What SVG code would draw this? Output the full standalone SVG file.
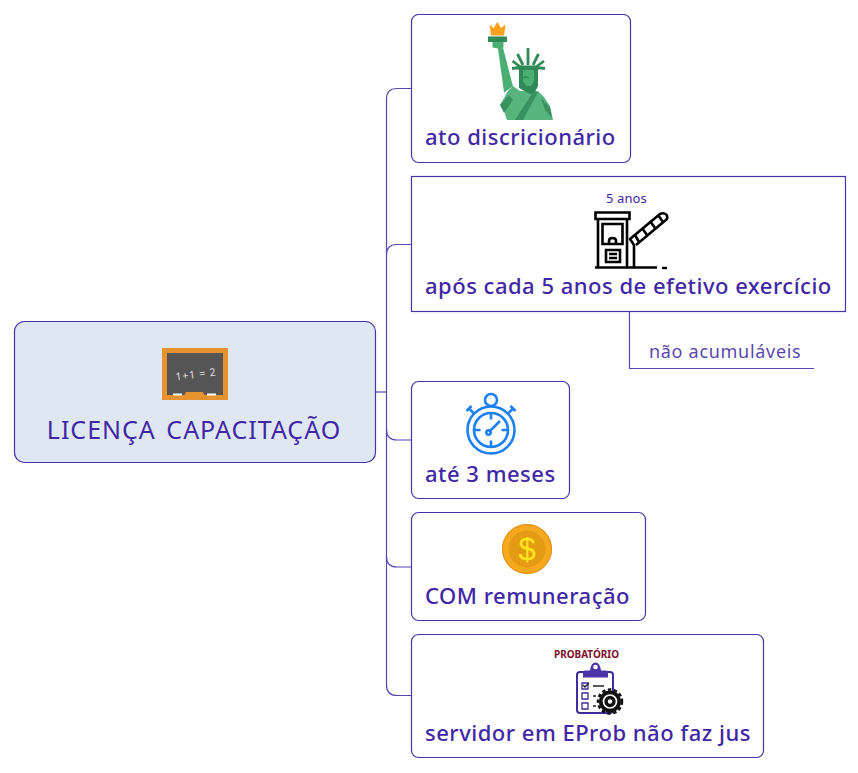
<svg xmlns="http://www.w3.org/2000/svg" width="858" height="773" viewBox="0 0 858 773">
<style>
text{font-family:"Noto Sans","Open Sans","DejaVu Sans",sans-serif;fill:#3f27a5}
.box{fill:#fff;stroke:#4a32a8;stroke-width:1.2}
.lab{font-size:22px;font-weight:500;letter-spacing:.5px}
.conn{fill:none;stroke:#5a45b5;stroke-width:1.2}
.gl{fill:none;stroke:#000;stroke-width:2.6}
.bl{fill:none;stroke:#1e80f5;stroke-width:2.6}
.nv{fill:none;stroke:#3f2d9c;stroke-width:2}
</style>
<rect width="858" height="773" fill="#fff"/>
<g id="connectors">
<path class="conn" d="M376 392H386.500"/>
<path class="conn" d="M411.500 88.500H397Q386.500 88.500 386.500 99V685Q386.500 695.500 397 695.500H411.500"/>
<path class="conn" d="M411.500 244.500H397Q386.500 244.500 386.500 255"/>
<path class="conn" d="M386.500 429.500Q386.500 440 397 440H411.500"/>
<path class="conn" d="M386.500 556.500Q386.500 567 397 567H411.500"/>
<path class="conn" d="M629.500 311.500V368.500H814"/>
</g>
<g id="root">
<rect x="14.500" y="321.500" width="361" height="141" rx="10" fill="#dfe7f3" stroke="#4a32a8" stroke-width="1.2"/>
<rect x="162" y="348" width="66" height="52" fill="#e6932f"/>
<rect x="167" y="353" width="56" height="42" fill="#555"/>
<path d="M184 396l2-4h17l2 4z" fill="#e6932f"/>
<rect x="173" y="393.500" width="9" height="2" fill="#fff"/>
<rect x="207" y="393.500" width="9" height="2" fill="#fff"/>
<text x="196" y="378" text-anchor="middle" font-size="10.500" letter-spacing=".8" transform="rotate(-7 196 374)" style="fill:#e0e0e0">1+1 = 2</text>
<text x="194" y="439" text-anchor="middle" font-size="25" letter-spacing="1" word-spacing="3">LICENÇA CAPACITAÇÃO</text>
</g>
<g id="n1">
<rect class="box" x="411.500" y="14.500" width="219" height="148" rx="7"/>
<path d="M491 35.500l-1.500-11 4 3.500 4-6 3.500 6 4.500-3.500-1.500 11z" fill="#f9a11b"/>
<rect x="488" y="36.500" width="19" height="5.500" fill="#2f8a58"/>
<path d="M492.500 42h11v5.500l-.5 0 10 39-9 6-6-44-5.500-1z" fill="#4cae72"/>
<path d="M500 105l8-14 5-5 7 5 18 0 6 6 6 9 3 14h-46l-4-12z" fill="#56b47c"/>
<path d="M519 68h19v18l-4 8-4 0-11-6z" fill="#2f8a58"/>
<path d="M523 70h11v11l-3 5h-5l-3-5z" fill="#4cae72"/>
<path d="M523 78q3-2 6 0" stroke="#2f8a58" stroke-width="1.500" fill="none"/>
<path d="M528 48v17M517.500 54l5.500 11M538.500 54l-5.500 11M512.500 61l8 6M544 61l-8 6M512 68.500l8-1M545 68.500l-8-1" stroke="#2f8a58" stroke-width="2.800" fill="none"/>
<path d="M517 65.500h22v4h-22z" fill="#2f8a58"/>
<path d="M533 92l5 0-15 28h-8zM500 105l9-10 4 5-9 13zM541 98l4 12 7 8-2-10z" fill="#3a9160"/>
<text class="lab" x="425" y="145">ato discricionário</text>
</g>
<g id="n2">
<rect class="box" x="411.500" y="176.500" width="434" height="135"/>
<text x="606" y="203" font-size="13" letter-spacing=".1">5 anos</text>
<path class="gl" d="M595 267.500h62M598 219v48.500M627 219v48.500M595.500 212.500h34v6.500h-34zM602.500 224h20v20h-20zM606 250h14v12h-14zM609 254h8M609 258h8M609 244v-3q0-3 3.500-3t3.500 3v3"/>
<path class="gl" d="M634 267.500V245l-4-6 30-25q3-1.500 5.500 0t1.500 5l-31 26" stroke-linejoin="round"/>
<path d="M639 242l-4-7M647 235l-5-7M655 228l-5-7M663 222l-5-7" stroke="#000" stroke-width="2.600"/>
<path d="M662 268h5" stroke="#000" stroke-width="2.400"/>
<text class="lab" x="425" y="294">após cada 5 anos de efetivo exercício</text>
</g>
<g id="n2-note">
<text x="649" y="358" font-size="18" letter-spacing=".7" fill-opacity=".88">não acumuláveis</text>
</g>
<g id="n3">
<rect class="box" x="411.500" y="381.500" width="158" height="117" rx="7"/>
<circle class="bl" cx="491" cy="430" r="23.500"/>
<circle class="bl" cx="491" cy="430" r="17"/>
<circle class="bl" cx="491" cy="400" r="6"/>
<path class="bl" d="M491 406v1M491 413v6.500M491 440.500v6.500M474 430h6.500M501.500 430h6.500M489 432l11-11M473.500 413l-4.500-4.500M466.500 411l5-5M508.500 413l4.500-4.500M515.500 411l-5-5"/>
<circle class="bl" cx="488.500" cy="432.500" r="2.200"/>
<text class="lab" x="425" y="482">até 3 meses</text>
</g>
<g id="n4">
<rect class="box" x="411.500" y="512.500" width="234" height="108" rx="7"/>
<circle cx="527" cy="549" r="25" fill="#f6a81e"/>
<circle cx="527" cy="549" r="24.500" fill="none" stroke="#e08f14" stroke-width="1"/>
<circle cx="527" cy="549" r="18.500" fill="#e59a14"/>
<text x="527" y="560" text-anchor="middle" font-size="31" style="fill:#fbe61e;font-family:'Liberation Sans',sans-serif">$</text>
<text class="lab" x="425" y="604">COM remuneração</text>
</g>
<g id="n5">
<rect class="box" x="411.500" y="634.500" width="352" height="123" rx="7"/>
<text x="554" y="658" textLength="65" lengthAdjust="spacingAndGlyphs" font-size="10" font-weight="700" style="fill:#7e0f2a">PROBATÓRIO</text>
<rect class="nv" x="577" y="672" width="36" height="41" rx="3"/>
<path d="M583 677.500v-5q0-2 2-2h5q1-8 5.500-8t5.500 8h5q2 0 2 2v5z" fill="#4a35a8"/>
<circle cx="595.500" cy="667" r="2.300" fill="#fff"/>
<path d="M582 683h6v6h-6zM582 693h6v6h-6zM582 703h6v6h-6z" fill="none" stroke="#3f2d9c" stroke-width="1.300"/>
<path d="M583 685l2 2 4-4M593 686h11M593 696h3M593 706h3" fill="none" stroke="#222" stroke-width="1.500"/>
<circle cx="610" cy="701.500" r="11" fill="#111"/>
<circle cx="610" cy="701.500" r="12" fill="none" stroke="#111" stroke-width="2.500" stroke-dasharray="3.500 2.500"/>
<circle cx="610" cy="701.500" r="6.500" fill="none" stroke="#fff" stroke-width="1.700"/>
<circle cx="610" cy="701.500" r="2.200" fill="#fff"/>
<text class="lab" x="425" y="741">servidor em EProb não faz jus</text>
</g>
</svg>
